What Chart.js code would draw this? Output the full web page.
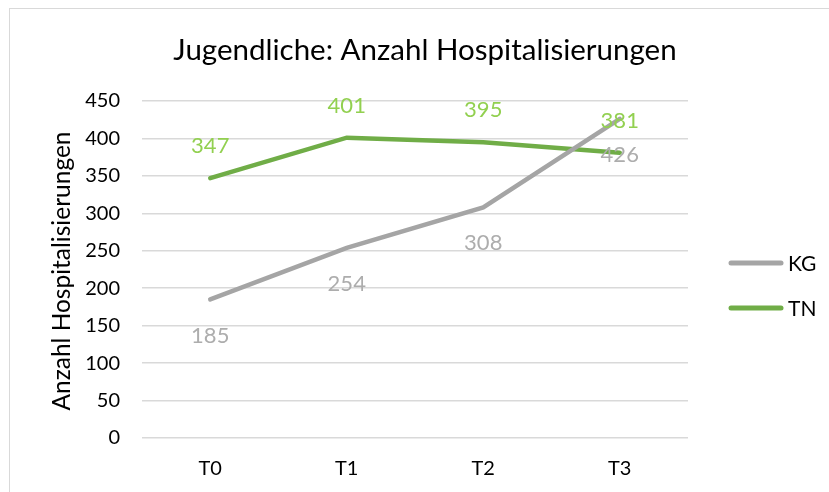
<!DOCTYPE html>
<html>
<head>
<meta charset="utf-8">
<script src="https://cdn.jsdelivr.net/npm/chart.js@4"></script>
<style>
  body { margin: 0; background: #fff; }
  #rahmen { position: absolute; left: 9px; top: 8px; width: 840px; height: 500px; border: 1px solid #D9D9D9; }
  #wrap { position: absolute; left: 0; top: 0; width: 829px; height: 492px; }
</style>
</head>
<body>
<div id="rahmen"></div>
<div id="wrap"><canvas id="chart_hosp"></canvas></div>
<script>
const zeitpunkte = ["T0", "T1", "T2", "T3"];
const werteKG = [185, 254, 308, 426];
const werteTN = [347, 401, 395, 381];
const yTicks = [0, 50, 100, 150, 200, 250, 300, 350, 400, 450];
const titel = "Jugendliche: Anzahl Hospitalisierungen";
const yTitel = "Anzahl Hospitalisierungen";

const SCHRIFT = "Lato, 'Open Sans', sans-serif";

// Titel, Achsentitel, Werte und Legende selbst zeichnen
const extras = {
  id: "extras",
  afterDatasetsDraw: function (chart) {
    let ctx = chart.ctx;
    ctx.save();
    ctx.textAlign = "center";
    ctx.textBaseline = "middle";

    ctx.fillStyle = "#000";
    ctx.font = "29.5px " + SCHRIFT;
    ctx.fillText(titel, 425, 50);

    ctx.save();
    ctx.translate(62, 271);
    ctx.rotate(-Math.PI / 2);
    ctx.font = "24.5px " + SCHRIFT;
    ctx.fillText(yTitel, 0, 0);
    ctx.restore();

    ctx.font = "22px " + SCHRIFT;
    chart.data.datasets.forEach(function (ds, i) {
      let meta = chart.getDatasetMeta(i);
      ctx.fillStyle = ds.labelColor;
      meta.data.forEach(function (p, j) {
        ctx.fillText(ds.data[j], p.x, p.y + ds.labelOffset);
      });
    });

    // Legende
    ctx.textAlign = "left";
    ctx.font = "21px " + SCHRIFT;
    ctx.lineCap = "round";
    ctx.lineWidth = 5;
    let ly = [263, 308];
    chart.data.datasets.forEach(function (ds, i) {
      ctx.strokeStyle = ds.borderColor;
      ctx.beginPath();
      ctx.moveTo(731, ly[i]);
      ctx.lineTo(781, ly[i]);
      ctx.stroke();
      ctx.fillStyle = "#000";
      ctx.fillText(ds.label, 788, ly[i] + 1);
    });
    ctx.restore();
  },
};

let chartHosp = new Chart(document.getElementById("chart_hosp"), {
  type: "line",
  data: {
    labels: zeitpunkte,
    datasets: [
      {
        label: "KG",
        data: werteKG,
        borderColor: "#A5A5A5",
        labelColor: "#ADADAD",
        labelOffset: 36,
        borderWidth: 4.5,
        pointRadius: 0,
        tension: 0,
        borderCapStyle: "round",
      },
      {
        label: "TN",
        data: werteTN,
        borderColor: "#70AD47",
        labelColor: "#92D050",
        labelOffset: -32,
        borderWidth: 4.5,
        pointRadius: 0,
        tension: 0,
        borderCapStyle: "round",
      },
    ],
  },
  options: {
    responsive: true,
    maintainAspectRatio: false,
    animation: false,
    layout: { padding: { top: 101, right: 141, left: 0, bottom: 0 } },
    plugins: {
      legend: { display: false },
      title: { display: false },
      tooltip: { enabled: false },
    },
    scales: {
      x: {
        offset: true,
        grid: { display: false, drawTicks: false },
        border: { display: false },
        ticks: { color: "#000", font: { family: SCHRIFT, size: 20 }, padding: 19 },
        afterFit: function (s) { s.height = 54; },
      },
      y: {
        min: 0,
        max: 450,
        afterBuildTicks: function (s) { s.ticks = yTicks.map(function (v) { return { value: v }; }); },
        grid: { color: "#D9D9D9", lineWidth: 1.5, drawTicks: false },
        border: { display: false },
        ticks: { color: "#000", font: { family: SCHRIFT, size: 20 }, padding: 22 },
        afterFit: function (s) { s.width = 142; },
      },
    },
  },
  plugins: [extras],
});
</script>
</body>
</html>
